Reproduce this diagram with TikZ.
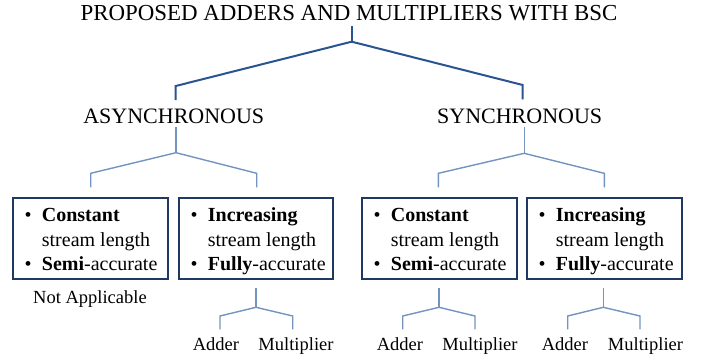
\documentclass[tikz,border=0pt]{standalone}
\usepackage{fontspec}
\setmainfont{Liberation Serif}
\begin{document}
\begin{tikzpicture}[x=1pt,y=1pt,
  toptext/.style={inner sep=0pt,anchor=base,font=\fontsize{22.9}{27}\selectfont},
  lvltext/.style={inner sep=0pt,anchor=base,font=\fontsize{22}{26}\selectfont},
  leaftext/.style={inner sep=0pt,anchor=base,font=\fontsize{18.5}{22}\selectfont},
  linetext/.style={inner sep=0pt,anchor=base west,font=\fontsize{20}{24}\selectfont},
  boxst/.style={draw=boxblue,line width=1.7pt,minimum width=#1,minimum height=81pt,inner sep=0pt},
  mainline/.style={draw=mainblue,line width=2pt},
  subline/.style={draw=subblue,line width=1.4pt},
]
\definecolor{mainblue}{HTML}{2B5391}
\definecolor{subblue}{HTML}{7393C0}
\definecolor{boxblue}{HTML}{1F3864}
\useasboundingbox (0,0) rectangle (710,-364);

% title and level nodes
\node[toptext] (title) at (349,-20.7) {PROPOSED ADDERS AND MULTIPLIERS WITH BSC};
\node[lvltext] (async) at (173.8,-123.3) {ASYNCHRONOUS};
\node[lvltext] (sync) at (519.7,-123.3) {SYNCHRONOUS};

% top tree
\coordinate (t0) at (351.7,-26);
\coordinate (tj) at (351.7,-41.7);
\coordinate (tl) at (175.7,-86);
\coordinate (tlb) at (175.7,-100);
\coordinate (tr) at (522.7,-85);
\coordinate (trb) at (522.7,-99.3);
\draw[mainline] (t0) -- (tj);
\draw[mainline,line join=miter] (tlb) -- (tl) -- (tj) -- (tr) -- (trb);

% async subtree
\coordinate (a0) at (176,-126.7);
\coordinate (aj) at (176,-152.7);
\coordinate (al) at (90.7,-173.3);
\coordinate (alb) at (90.7,-187.3);
\coordinate (ar) at (256.7,-173.3);
\coordinate (arb) at (256.7,-187.3);
\draw[subline] (a0) -- (aj);
\draw[subline] (alb) -- (al) -- (aj) -- (ar) -- (arb);

% sync subtree
\coordinate (s0) at (524.3,-126.7);
\coordinate (sj) at (524.3,-153.3);
\coordinate (sl) at (438.3,-173.3);
\coordinate (slb) at (438.3,-187.3);
\coordinate (sr) at (604.3,-173.3);
\coordinate (srb) at (604.3,-187.3);
\draw[subline] (s0) -- (sj);
\draw[subline] (slb) -- (sl) -- (sj) -- (sr) -- (srb);

% boxes
\node[boxst=155pt] (b1) at (90.8,-238.8) {};
\node[boxst=154pt] (b2) at (256.3,-238.8) {};
\node[boxst=154.4pt] (b3) at (439.5,-238.8) {};
\node[boxst=154.4pt] (b4) at (604.5,-238.8) {};

% box texts
\foreach \bx/\wa/\wb/\nm in {13.3/Constant/Semi/p, 362.3/Constant/Semi/q, 179.3/Increasing/Fully/r, 527.3/Increasing/Fully/s}{
  \node[linetext] (\nm1b) at (\bx+11.2,-221.7) {\textbullet};
  \node[linetext] (\nm1) at (\bx+28.4,-221.7) {\textbf{\wa}};
  \node[linetext] (\nm2) at (\bx+28.4,-246) {stream length};
  \node[linetext] (\nm3b) at (\bx+11.2,-270) {\textbullet};
  \node[linetext] (\nm3) at (\bx+28.4,-270) {\textbf{\wb}-accurate};
}

\node[leaftext] (na) at (90,-303) {Not Applicable};

% leaf subtrees
\foreach \cx/\lx/\rx/\ax/\mx/\nm in {256/220/292.7/216/296/u, 439/402.7/475/400/480/v, 603.3/567.7/640/565/645.5/w}{
  \coordinate (\nm0) at (\cx,-288.3);
  \coordinate (\nm j) at (\cx,-307.3);
  \coordinate (\nm l) at (\lx,-316);
  \coordinate (\nm lb) at (\lx,-329.3);
  \coordinate (\nm r) at (\rx,-316);
  \coordinate (\nm rb) at (\rx,-329.3);
  \draw[subline] (\nm0) -- (\nm j);
  \draw[subline] (\nm lb) -- (\nm l) -- (\nm j) -- (\nm r) -- (\nm rb);
  \node[leaftext] (\nm add) at (\ax,-350) {Adder};
  \node[leaftext] (\nm mul) at (\mx,-350) {Multiplier};
}
\end{tikzpicture}
\end{document}
